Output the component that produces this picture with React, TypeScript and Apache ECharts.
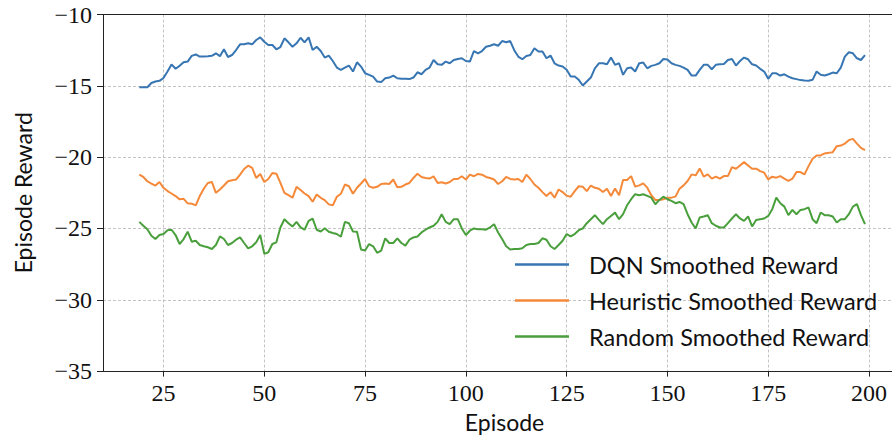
import React, { useEffect, useRef } from "react";
import * as echarts from "echarts";

const START_EPISODE = 19;

const dqnReward = [
  -15.1, -15.1, -15.1, -14.8, -14.7, -14.65, -14.45, -14.0, -13.5, -13.8,
  -13.6, -13.35, -13.3, -12.9, -12.8, -12.95, -12.95, -12.93, -12.9, -12.72,
  -12.92, -12.44, -12.98, -12.84, -12.49, -12.09, -12.09, -12.02, -12.09, -11.79,
  -11.6, -11.91, -12.14, -12.14, -12.44, -12.28, -11.67, -11.95, -12.26, -12.02,
  -11.63, -11.95, -11.6, -12.49, -12.26, -12.56, -13.02, -12.88, -13.26, -13.72,
  -13.88, -13.72, -13.58, -14.0, -13.35, -13.65, -14.12, -14.23, -14.35, -14.7,
  -14.74, -14.47, -14.42, -14.28, -14.47, -14.51, -14.51, -14.53, -14.42, -14.05,
  -14.19, -13.88, -13.72, -13.19, -13.49, -13.53, -13.3, -13.42, -13.19, -13.12,
  -13.07, -13.26, -13.3, -12.56, -12.72, -12.56, -12.26, -12.19, -12.09, -12.19,
  -11.86, -11.95, -11.86, -12.5, -12.95, -13.14, -12.91, -12.84, -12.37, -12.6,
  -12.6, -13.07, -12.88, -13.42, -13.58, -13.65, -13.88, -14.35, -14.35, -14.58,
  -14.98, -14.7, -14.42, -13.77, -13.42, -13.42, -13.49, -13.02, -13.53, -13.42,
  -14.23, -13.77, -13.72, -14.0, -13.42, -13.37, -13.77, -13.6, -13.53, -13.42,
  -13.12, -13.16, -13.42, -13.53, -13.6, -13.72, -13.88, -14.28, -14.28, -13.88,
  -13.53, -13.53, -13.84, -13.53, -13.49, -13.47, -13.19, -13.12, -13.58, -13.26,
  -13.02, -13.14, -13.49, -13.58, -13.81, -14.0, -14.51, -14.12, -14.12, -14.28,
  -14.19, -14.35, -14.47, -14.53, -14.6, -14.63, -14.65, -14.58, -14.0, -14.23,
  -14.28, -14.19, -14.07, -14.12, -13.72, -12.95, -12.65, -12.72, -13.07, -13.19,
  -12.84,
];

const heuristicReward = [
  -21.23, -21.39, -21.69, -21.85, -21.99, -21.74, -22.15, -22.38, -22.55, -22.73,
  -22.96, -22.92, -23.24, -23.26, -23.38, -22.73, -22.22, -21.81, -21.74, -22.5,
  -22.27, -21.99, -21.69, -21.62, -21.57, -21.23, -20.83, -20.6, -20.76, -21.46,
  -21.18, -21.74, -21.53, -21.11, -21.16, -21.81, -22.5, -22.66, -22.85, -22.08,
  -22.31, -22.55, -22.73, -23.13, -22.62, -22.85, -23.01, -23.31, -23.38, -22.78,
  -22.57, -21.92, -22.04, -22.57, -22.15, -21.85, -21.53, -22.05, -22.15, -22.08,
  -21.88, -21.85, -21.88, -21.57, -22.11, -22.08, -21.92, -21.81, -21.46, -21.16,
  -21.39, -21.46, -21.5, -21.34, -21.81, -21.76, -21.85, -21.74, -21.53, -21.53,
  -21.34, -21.57, -21.23, -21.34, -21.18, -21.23, -21.39, -21.46, -21.57, -21.88,
  -21.69, -21.39, -21.53, -21.57, -21.53, -21.74, -21.23, -21.53, -21.92, -22.15,
  -22.45, -22.73, -22.45, -22.85, -22.27, -22.45, -22.7, -22.78, -22.38, -22.04,
  -22.08, -22.38, -21.99, -22.15, -22.22, -22.45, -22.22, -22.73, -22.2, -22.67,
  -21.6, -21.6, -21.33, -22.07, -21.98, -21.84, -22.14, -22.67, -23.0, -23.0,
  -22.95, -22.84, -22.84, -22.77, -22.21, -21.98, -21.67, -21.21, -21.28, -20.79,
  -21.37, -21.21, -21.51, -21.37, -21.51, -21.33, -21.33, -20.7, -20.81, -20.58,
  -20.35, -20.58, -20.81, -20.81, -20.98, -21.09, -21.56, -21.37, -21.44, -21.33,
  -21.51, -21.67, -21.51, -21.05, -21.05, -21.21, -20.63, -20.12, -19.88, -19.88,
  -19.74, -19.7, -19.65, -19.23, -19.19, -19.05, -18.81, -18.72, -19.05, -19.35,
  -19.51,
];

const randomReward = [
  -24.54, -24.81, -25.05, -25.51, -25.74, -25.46, -25.39, -25.12, -25.09, -25.46,
  -26.09, -25.74, -25.23, -25.93, -25.86, -26.16, -26.25, -26.32, -26.44, -26.16,
  -25.56, -25.74, -26.16, -26.02, -25.79, -25.63, -26.02, -26.39, -26.25, -25.97,
  -25.46, -26.78, -26.67, -26.09, -25.97, -24.93, -24.35, -24.63, -24.86, -24.54,
  -24.93, -25.09, -24.47, -24.31, -25.09, -25.21, -24.98, -25.23, -25.32, -25.39,
  -25.58, -24.54, -24.63, -25.21, -25.23, -26.48, -26.55, -26.09, -26.25, -26.71,
  -26.55, -25.69, -26.02, -26.02, -25.69, -26.02, -26.2, -25.79, -25.63, -25.56,
  -25.28, -25.09, -24.93, -24.81, -24.54, -24.0, -24.54, -24.7, -24.35, -24.35,
  -25.0, -25.46, -25.16, -25.0, -25.05, -25.05, -25.09, -24.93, -24.7, -25.28,
  -25.74, -26.25, -26.48, -26.44, -26.44, -26.39, -26.16, -26.09, -26.09, -26.02,
  -25.69, -25.79, -26.25, -26.44, -26.16, -25.86, -25.39, -25.56, -25.39, -25.12,
  -25.0, -24.63, -24.35, -24.07, -24.4, -24.7, -24.35, -24.12, -23.89, -24.35,
  -24.0, -23.37, -22.95, -22.6, -22.67, -22.6, -22.72, -22.84, -23.3, -23.0,
  -22.77, -22.95, -23.07, -23.23, -23.14, -23.3, -24.0, -24.58, -25.0, -24.23,
  -24.16, -24.07, -24.63, -24.81, -24.93, -24.93, -24.63, -24.3, -24.0, -24.3,
  -24.47, -24.16, -24.86, -24.4, -24.35, -24.3, -24.12, -23.65, -22.84, -23.23,
  -23.47, -24.07, -23.7, -24.0, -23.7, -23.65, -23.53, -24.35, -24.63, -23.88,
  -24.07, -24.07, -24.16, -24.58, -24.35, -24.35, -24.0, -23.47, -23.3, -24.07,
  -24.7,
];

const seriesNames = [
  "DQN Smoothed Reward",
  "Heuristic Smoothed Reward",
  "Random Smoothed Reward",
];
const seriesColors = ["#3776b2", "#f5893a", "#4a9f3d"];
const xTicks = [25, 50, 75, 100, 125, 150, 175, 200];

const SERIF = "'Liberation Serif', 'DejaVu Serif', serif";
const SANS = "Lato, 'Noto Sans', sans-serif";

function toPairs(values: number[]) {
  return values.map((v, i) => [START_EPISODE + i, v]);
}

export default function App() {
  const ref = useRef<HTMLDivElement>(null);

  useEffect(() => {
    if (!ref.current) return;
    const chart = echarts.init(ref.current, undefined, { renderer: "svg" });
    const allSeries = [dqnReward, heuristicReward, randomReward];
    const gridStyle = { color: "#b5b5b5", width: 0.8, type: [3, 2] as any };
    const minus = (v: number) => String(v).replace("-", "\u2212");

    chart.setOption({
      animation: false,
      backgroundColor: "#ffffff",
      grid: { left: 103, right: 0, top: 14.5, bottom: 65.3, containLabel: false },
      legend: {
        data: seriesNames.map((n) => ({ name: n, icon: "rect" })),
        orient: "vertical",
        left: 515,
        top: 252.5,
        padding: 0,
        itemWidth: 54,
        itemHeight: 2.5,
        itemGap: 12,
        textStyle: {
          fontFamily: SANS,
          fontSize: 23.5,
          color: "#111",
          lineHeight: 24,
          padding: [0, 0, 0, 15],
        },
      },
      xAxis: [
        {
          type: "value",
          min: 10,
          max: 205.7,
          name: "Episode",
          nameLocation: "middle",
          nameGap: 36,
          nameTextStyle: {
            fontFamily: SANS,
            fontSize: 23,
            color: "#111",
            padding: [0, 0, 0, 14],
          },
          axisLine: { show: true, onZero: false, lineStyle: { color: "#222", width: 1 } },
          axisTick: {
            show: true,
            length: 5.5,
            customValues: xTicks,
            lineStyle: { color: "#222", width: 1 },
          },
          axisLabel: {
            customValues: xTicks,
            fontFamily: SERIF,
            fontSize: 24,
            color: "#111",
            margin: 10,
          },
          splitLine: { show: true, lineStyle: gridStyle },
        },
        {
          type: "value",
          position: "top",
          min: 10,
          max: 205.7,
          axisLine: { show: true, onZero: false, lineStyle: { color: "#222", width: 1 } },
          axisTick: { show: false },
          axisLabel: { show: false },
          splitLine: { show: false },
        },
      ],
      yAxis: {
        type: "value",
        min: -35,
        max: -10,
        interval: 5,
        name: "Episode Reward",
        nameLocation: "middle",
        nameGap: 69,
        nameTextStyle: { fontFamily: SANS, fontSize: 23, color: "#111" },
        axisLine: { show: true, onZero: false, lineStyle: { color: "#222", width: 1 } },
        axisTick: { show: true, length: 6, lineStyle: { color: "#222", width: 1 } },
        axisLabel: {
          fontFamily: SERIF,
          fontSize: 24,
          color: "#111",
          margin: 11,
          formatter: minus,
        },
        splitLine: { show: true, lineStyle: gridStyle },
      },
      series: allSeries.map((vals, i) => ({
        name: seriesNames[i],
        type: "line",
        xAxisIndex: 0,
        data: toPairs(vals),
        symbol: "none",
        showSymbol: false,
        lineStyle: { color: seriesColors[i], width: 2 },
        itemStyle: { color: seriesColors[i] },
        z: 3,
      })),
    });

    return () => chart.dispose();
  }, []);

  return (
    <div
      ref={ref}
      style={{ position: "fixed", left: 0, top: 0, width: 892, height: 438 }}
    />
  );
}
